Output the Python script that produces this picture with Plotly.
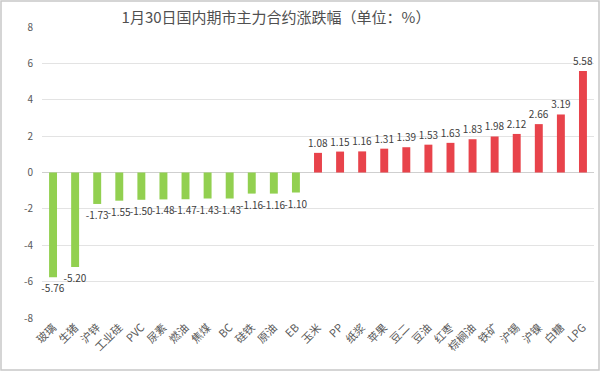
import plotly.graph_objects as go

categories = ["玻璃", "生猪", "沪锌", "工业硅", "PVC", "尿素", "燃油", "焦煤", "BC", "硅铁", "原油", "EB",
              "玉米", "PP", "纸浆", "苹果", "豆二", "豆油", "红枣", "棕榈油", "铁矿", "沪锡", "沪镍", "白糖", "LPG"]
values = [-5.76, -5.20, -1.73, -1.55, -1.50, -1.48, -1.47, -1.43, -1.43, -1.16, -1.16, -1.10,
          1.08, 1.15, 1.16, 1.31, 1.39, 1.53, 1.63, 1.83, 1.98, 2.12, 2.66, 3.19, 5.58]
y_ticks = [-8, -6, -4, -2, 0, 2, 4, 6, 8]

GREEN = "#92D050"
RED = "#E8434B"
colors = [GREEN if v < 0 else RED for v in values]

FONT = "Noto Sans CJK SC"

fig = go.Figure(go.Bar(
    x=categories, y=values,
    marker=dict(color=colors, line=dict(width=0)),
    text=[f"{v:.2f}" for v in values],
    textposition="outside",
    constraintext="none",
    cliponaxis=False,
    textfont=dict(size=10, color="#404040", family=FONT),
))

W, H = 600, 371
ml, mr, mt, mb = 42, 6, 27, 53
pw, ph = W - ml - mr, H - mt - mb

fig.update_layout(
    width=W, height=H,
    margin=dict(l=ml, r=mr, t=mt, b=mb, autoexpand=False),
    paper_bgcolor="white", plot_bgcolor="white",
    bargap=0.64,
    showlegend=False,
    font=dict(family=FONT, color="#595959"),
    title=dict(text="1月30日国内期市主力合约涨跌幅（单位：%）",
               x=276 / W, xanchor="center", y=1 - 18 / H, yanchor="middle",
               font=dict(size=15, color="#505050", family=FONT)),
    xaxis=dict(tickangle=-45, tickfont=dict(size=11, color="#595959"),
               showgrid=False, showline=False, ticks="", automargin=False),
    yaxis=dict(range=[-8, 8], tickvals=y_ticks, ticktext=[str(t) for t in y_ticks],
               tickfont=dict(size=10, color="#595959"),
               showgrid=True, gridcolor="#E3E3E3", gridwidth=1,
               zeroline=True, zerolinecolor="#CFCFCF", zerolinewidth=1,
               showline=False, ticks="", ticklabelstandoff=8, automargin=False),
    shapes=[dict(type="rect", xref="paper", yref="paper",
                 x0=(-ml + 1) / pw, x1=(W - ml - 1) / pw,
                 y0=(-mb + 1) / ph, y1=(H - mb - 1) / ph,
                 line=dict(color="#C8C8C8", width=1.5), layer="above")],
)

fig.write_html("out.html",
               config={"displayModeBar": False},
               post_script="document.body.style.margin='0';document.body.style.overflow='hidden';")
